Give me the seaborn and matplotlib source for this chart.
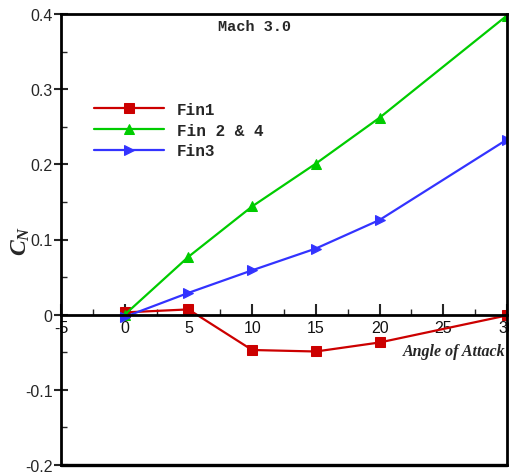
import matplotlib
matplotlib.use("Agg")
import matplotlib.pyplot as plt
import seaborn as sns
import numpy as np
from matplotlib.ticker import MultipleLocator

alpha = [0, 5, 10, 15, 20, 30]
fin1 = [0.003, 0.007, -0.047, -0.049, -0.037, -0.001]
fin24 = [0.0, 0.077, 0.144, 0.201, 0.262, 0.398]
fin3 = [-0.003, 0.029, 0.059, 0.088, 0.126, 0.233]
series_names = ["Fin1", "Fin 2 & 4", "Fin3"]
x_ticks = [-5, 0, 5, 10, 15, 20, 25, 30]
y_ticks = [-0.2, -0.1, 0, 0.1, 0.2, 0.3, 0.4]
y_tick_labels = ["-0.2", "-0.1", "0", "0.1", "0.2", "0.3", "0.4"]

sns.set_style("ticks")
plt.rcParams['font.family'] = ['Liberation Sans', 'DejaVu Sans']
plt.rcParams['mathtext.fontset'] = 'custom'
plt.rcParams['mathtext.it'] = 'Liberation Serif:italic:bold'
plt.rcParams['mathtext.rm'] = 'Liberation Serif:bold'

fig = plt.figure(figsize=(5.09, 4.77), dpi=100)
ax = fig.add_axes([61/509, 1-466/477, 446/509, 451/477])

colors = ["#cc0000", "#00cc00", "#3333ff"]
markers = ["s", "^", ">"]
msizes = [7.5, 7.5, 7.5]
for vals, name, c, m, ms in zip([fin1, fin24, fin3], series_names, colors, markers, msizes):
    sns.lineplot(x=alpha, y=vals, ax=ax, color=c, marker=m, markersize=ms,
                 markeredgecolor=c, linewidth=1.6, label=name, clip_on=True)

ax.set_xlim(-5, 30)
ax.set_ylim(-0.2, 0.4)
ax.set_xticks(x_ticks)
ax.set_xticklabels([str(t) for t in x_ticks])
ax.set_yticks(y_ticks)
ax.set_yticklabels(y_tick_labels)
ax.xaxis.set_minor_locator(MultipleLocator(2.5))
ax.yaxis.set_minor_locator(MultipleLocator(0.05))

for s in ax.spines.values():
    s.set_linewidth(2)
    s.set_color("black")
ax.spines['bottom'].set_position(('data', 0))
ax.axhline(-0.2, color='black', lw=2.4, clip_on=False, zorder=5)

ax.tick_params(axis='x', which='major', direction='in', length=8, width=1.5,
               labelsize=11.5, pad=4, top=False)
ax.tick_params(axis='x', which='minor', direction='in', length=4, width=1, top=False)
ax.tick_params(axis='y', which='major', direction='inout', length=10, width=1.5,
               labelsize=11.5, pad=1, right=False)
ax.tick_params(axis='y', which='minor', direction='in', length=4, width=1, right=False)
for lbl in ax.get_xticklabels():
    lbl.set_color("#111111")

ax.set_xlabel("")
ax.set_ylabel(r"$C_N$", fontsize=17)
ax.yaxis.set_label_coords(-0.065, 0.5)

fig.text(505/509, 1-352/477, "Angle of Attack", ha='right', va='center',
         fontsize=11.5, fontweight='bold', fontstyle='italic', family='Liberation Serif')
fig.text(218/509, 1-27/477, "Mach 3.0", ha='left', va='center',
         fontsize=11, fontweight='bold', family='Liberation Mono')

leg = ax.legend(loc='upper left', bbox_to_anchor=(94/509, 1-103/477),
                bbox_transform=fig.transFigure, frameon=False,
                prop={'family': 'Liberation Mono', 'weight': 'bold', 'size': 11.5},
                handlelength=4.4, labelspacing=0.35, handletextpad=0.8, borderpad=0,
                borderaxespad=0)

fig.savefig("out.png", dpi=100)
